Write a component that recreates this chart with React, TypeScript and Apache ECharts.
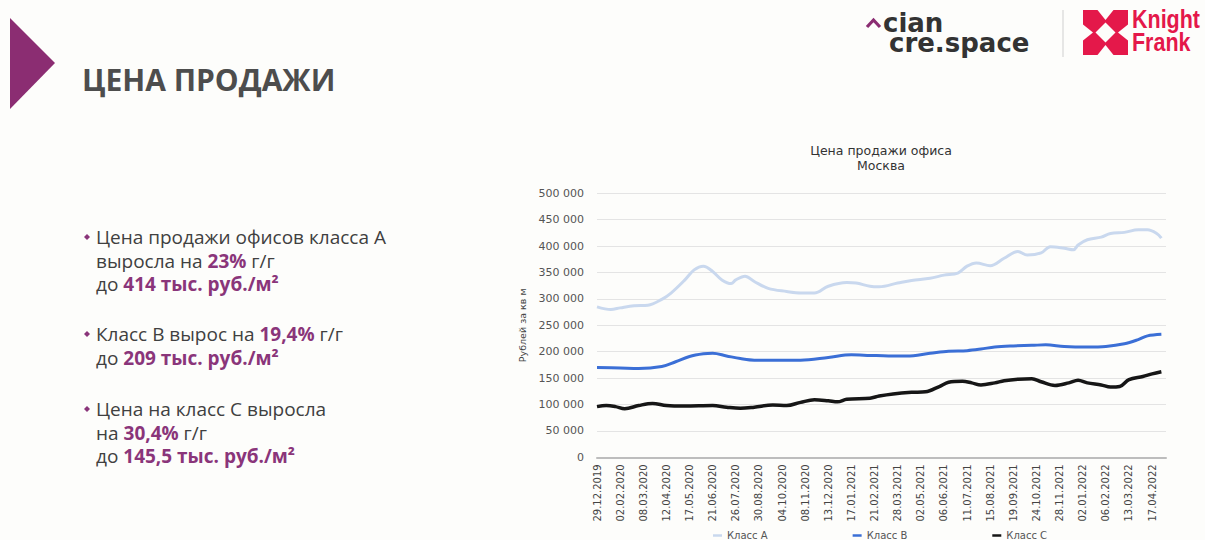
import React, { useEffect, useRef } from 'react';
import * as echarts from 'echarts';

// X-axis tick labels, one every 5 weeks starting at week 0 (29.12.2019)
const xTickLabels = [
  '29.12.2019', '02.02.2020', '08.03.2020', '12.04.2020', '17.05.2020', '21.06.2020',
  '26.07.2020', '30.08.2020', '04.10.2020', '08.11.2020', '13.12.2020', '17.01.2021',
  '21.02.2021', '28.03.2021', '02.05.2021', '06.06.2021', '11.07.2021', '15.08.2021',
  '19.09.2021', '24.10.2021', '28.11.2021', '02.01.2022', '06.02.2022', '13.03.2022',
  '17.04.2022',
];

const seriesNames = ['Класс А', 'Класс В', 'Класс С'];

// Class A: week index since 29.12.2019 and price, rub per sq m
const weeksA = [0, 3, 5, 8, 11, 14, 16, 19, 21, 23, 25, 27, 29, 30, 32, 34, 37, 41, 44, 47, 50, 54, 56, 59, 61, 65, 68, 72, 75, 78, 80, 82, 85, 88, 91, 93, 96, 98, 101, 103, 104, 106, 109, 111, 114, 117, 119, 121, 122];
const valuesA = [285000, 280000, 283000, 287000, 288000, 299000, 311000, 336000, 355000, 362000, 352000, 336000, 329000, 336000, 343000, 333000, 320000, 314000, 311000, 311000, 324000, 331000, 330000, 324000, 323000, 330000, 335000, 339000, 345000, 349000, 362000, 368000, 363000, 377000, 390000, 383000, 387000, 399000, 396000, 393000, 402000, 412000, 417000, 424000, 426000, 431000, 431000, 424000, 415000];

// Class B
const weeksB = [0, 5, 9, 14, 17, 20, 23, 25, 28, 31, 34, 41, 44, 50, 55, 59, 63, 67, 72, 76, 80, 83, 86, 90, 94, 97, 101, 106, 110, 114, 117, 119, 122];
const valuesB = [170000, 169000, 168000, 172000, 181000, 191000, 196000, 197000, 192000, 187000, 184000, 184000, 184000, 189000, 194000, 193000, 192000, 192000, 197000, 201000, 202000, 205000, 209000, 211000, 212000, 213000, 210000, 209000, 210000, 215000, 223000, 230000, 233000];

// Class C
const weeksC = [0, 2, 4, 6, 9, 12, 15, 19, 25, 28, 31, 34, 38, 41, 44, 47, 50, 52, 54, 59, 61, 64, 68, 71, 74, 76, 79, 81, 83, 86, 88, 91, 94, 96, 99, 102, 104, 106, 109, 111, 113, 115, 118, 120, 122];
const valuesC = [96000, 98000, 96000, 92000, 98000, 102000, 98000, 97000, 98000, 95000, 93000, 95000, 99000, 98000, 104000, 109000, 107000, 105000, 110000, 112000, 116000, 120000, 123000, 124000, 134000, 142000, 144000, 141000, 137000, 141000, 145000, 148000, 149000, 143000, 136000, 141000, 146000, 141000, 137000, 133000, 134000, 147000, 153000, 158000, 162000];

const yTicks = { min: 0, max: 500000, interval: 50000 };

const TEXT = '#404040';
const ACCENT = '#8a357a';
const KF_RED = '#e4184a';

function fmtThousands(v: number): string {
  return String(v).replace(/\B(?=(\d{3})+(?!\d))/g, ' ');
}

const bulletTexts: { y: number; lines: string[] }[] = [
  { y: 237, lines: ['Цена продажи офисов класса А', 'выросла на {h|23%} г/г', 'до {h|414 тыс. руб./м²}'] },
  { y: 334, lines: ['Класс В вырос на {h|19,4%} г/г', 'до {h|209 тыс. руб./м²}'] },
  { y: 409, lines: ['Цена на класс С выросла', 'на {h|30,4%} г/г', 'до {h|145,5 тыс. руб./м²}'] },
];

export default function App() {
  const ref = useRef<HTMLDivElement>(null);

  useEffect(() => {
    if (!ref.current) return;
    const chart = echarts.init(ref.current, null, { renderer: 'svg' });

    const graphics: any[] = [];
    // purple triangle
    graphics.push({ type: 'polygon', shape: { points: [[10, 18], [55, 63], [10, 109]] }, style: { fill: '#8b2d72' } });
    // slide title
    graphics.push({
      type: 'text', x: 82, y: 79,
      style: { text: 'ЦЕНА ПРОДАЖИ', fill: '#4d4d4d', font: 'bold 30px "Open Sans", sans-serif', align: 'left', verticalAlign: 'middle' },
    });
    // cian logo
    graphics.push({ type: 'polyline', shape: { points: [[867, 27], [873.5, 20], [880, 27]] }, style: { stroke: '#8b2d72', lineWidth: 3.2, fill: null } });
    graphics.push({
      type: 'text', x: 883, y: 33,
      style: {
        text: '{a|cian}\n{b|cre.space}', fill: '#333', font: 'bold 26px "DejaVu Sans", sans-serif', align: 'left', verticalAlign: 'middle',
        rich: {
          a: { fontSize: 26, fontWeight: 'bold', fontFamily: '"DejaVu Sans", sans-serif', lineHeight: 20, fill: '#333' },
          b: { fontSize: 26, fontWeight: 'bold', fontFamily: '"DejaVu Sans", sans-serif', lineHeight: 20, fill: '#333', padding: [0, 0, 0, 6] },
        },
      },
    });
    // divider
    graphics.push({ type: 'line', shape: { x1: 1063, y1: 10, x2: 1063, y2: 57 }, style: { stroke: '#cfcfcf', lineWidth: 1 } });
    // Knight Frank mark
    const kx = 1083, ky = 10, ks = 45, cx = kx + ks / 2, cy = ky + ks / 2;
    graphics.push({ type: 'rect', shape: { x: kx, y: ky, width: ks, height: ks }, style: { fill: KF_RED } });
    const white = '#fdfdfb';
    graphics.push({ type: 'polygon', shape: { points: [[cx, cy - 10], [cx + 10, cy], [cx, cy + 10], [cx - 10, cy]] }, style: { fill: white } });
    graphics.push({ type: 'polygon', shape: { points: [[cx - 8, ky], [cx + 8, ky], [cx, ky + 10]] }, style: { fill: white } });
    graphics.push({ type: 'polygon', shape: { points: [[cx - 8, ky + ks], [cx + 8, ky + ks], [cx, ky + ks - 10]] }, style: { fill: white } });
    graphics.push({ type: 'polygon', shape: { points: [[kx, cy - 8], [kx, cy + 8], [kx + 10, cy]] }, style: { fill: white } });
    graphics.push({ type: 'polygon', shape: { points: [[kx + ks, cy - 8], [kx + ks, cy + 8], [kx + ks - 10, cy]] }, style: { fill: white } });
    graphics.push({ type: 'text', x: 1132, y: 19, scaleX: 0.86, style: { text: 'Knight', fill: KF_RED, font: 'bold 25px "Liberation Sans", Arial, sans-serif', lineHeight: 21, align: 'left', verticalAlign: 'middle' } });
    graphics.push({ type: 'text', x: 1132, y: 42, scaleX: 0.86, style: { text: 'Frank', fill: KF_RED, font: 'bold 25px "Liberation Sans", Arial, sans-serif', lineHeight: 21, align: 'left', verticalAlign: 'middle' } });

    // bullets
    bulletTexts.forEach((b) => {
      graphics.push({ type: 'polygon', shape: { points: [[87, b.y - 3], [90, b.y], [87, b.y + 3], [84, b.y]] }, style: { fill: ACCENT } });
      b.lines.forEach((ln, i) => {
        graphics.push({
          type: 'text', x: 96, y: b.y + i * 23.5,
          style: {
            text: ln, fill: TEXT, font: '19px "Open Sans", sans-serif', align: 'left', verticalAlign: 'middle',
            rich: { h: { fill: ACCENT, fontWeight: 'bold', fontSize: 19, fontFamily: '"Open Sans", sans-serif' } },
          },
        });
      });
    });

    // chart title
    graphics.push({
      type: 'text', x: 881, y: 158,
      style: { text: 'Цена продажи офиса\nМосква', fill: '#333', font: '12.5px "DejaVu Sans", sans-serif', align: 'center', verticalAlign: 'middle', lineHeight: 15 },
    });

    const lineSeries = [
      { name: seriesNames[0], weeks: weeksA, values: valuesA, color: '#c9d8ee', width: 3 },
      { name: seriesNames[1], weeks: weeksB, values: valuesB, color: '#3b6fd6', width: 3 },
      { name: seriesNames[2], weeks: weeksC, values: valuesC, color: '#161616', width: 3.5 },
    ];

    chart.setOption({
      animation: false,
      backgroundColor: '#fdfdfb',
      textStyle: { fontFamily: '"DejaVu Sans", sans-serif' },
      grid: { left: 597, top: 193.3, width: 569, height: 264 },
      legend: {
        data: seriesNames, left: 708, top: 525, icon: 'rect', itemWidth: 9, itemHeight: 2.5, itemGap: 85,
        textStyle: { fontSize: 10, color: '#555', lineHeight: 11 },
      },
      xAxis: {
        type: 'value', min: 0, max: 123, interval: 5,
        axisLine: { show: true, onZero: false, lineStyle: { color: '#bdbdbd', width: 2 } },
        axisTick: { show: false }, splitLine: { show: false },
        axisLabel: {
          rotate: 90, margin: 7, fontSize: 10, color: '#444',
          formatter: (v: number) => (v % 5 === 0 && xTickLabels[v / 5]) ? xTickLabels[v / 5] : '',
        },
      },
      yAxis: {
        type: 'value', min: yTicks.min, max: yTicks.max, interval: yTicks.interval,
        name: 'Рублей за кв м', nameLocation: 'middle', nameRotate: 90, nameGap: 70,
        nameTextStyle: { fontSize: 9.5, color: '#444' },
        axisLine: { show: false }, axisTick: { show: false },
        splitLine: { lineStyle: { color: '#e4e4e4', width: 1 } },
        axisLabel: { margin: 13, fontSize: 11, color: '#555', formatter: (v: number) => fmtThousands(v) },
      },
      series: lineSeries.map((s) => ({
        type: 'line', name: s.name, showSymbol: false, smooth: 0.35,
        data: s.weeks.map((w, i) => [w, s.values[i]]),
        lineStyle: { color: s.color, width: s.width }, itemStyle: { color: s.color },
      })),
      graphic: graphics,
    });

    return () => chart.dispose();
  }, []);

  return <div ref={ref} style={{ position: 'fixed', left: 0, top: 0, width: 1205, height: 540 }} />;
}
